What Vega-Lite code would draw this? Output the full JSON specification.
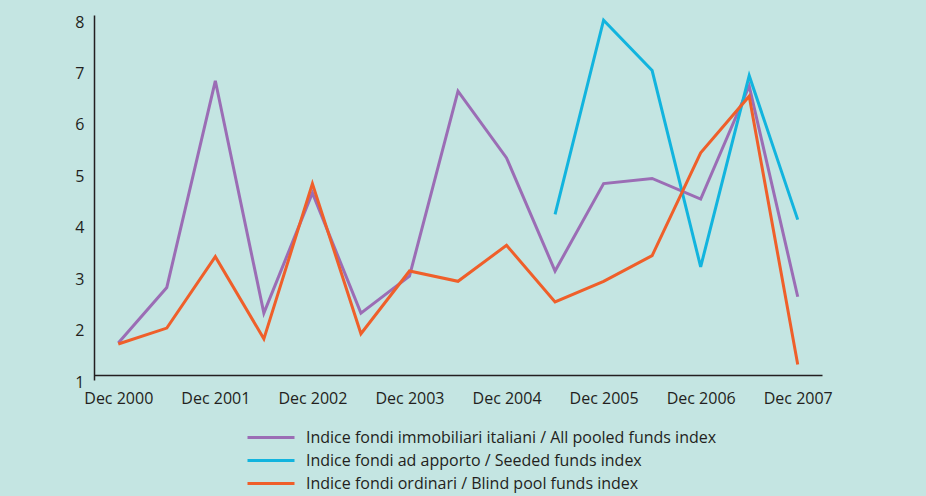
{
  "$schema": "https://vega.github.io/schema/vega-lite/v6.json",
  "width": 728,
  "height": 365,
  "autosize": {"type": "none"},
  "padding": {"left": 94, "top": 15, "right": 104, "bottom": 116},
  "background": "#c4e5e2",
  "config": {
    "view": {"stroke": null},
    "font": "Open Sans",
    "axis": {"labelFont": "Open Sans", "labelColor": "#231f20", "labelFontSize": 16, "grid": false, "ticks": false, "domainColor": "#231f20", "domainWidth": 1.5, "title": null},
    "legend": {"labelFont": "Open Sans", "labelFontSize": 16, "labelColor": "#231f20"}
  },
  "data": {"values": [
    {"t": "Dec 2000", "s": "Indice fondi immobiliari italiani / All pooled funds index", "v": 1.72},
    {"t": "Jun 2001", "s": "Indice fondi immobiliari italiani / All pooled funds index", "v": 2.8},
    {"t": "Dec 2001", "s": "Indice fondi immobiliari italiani / All pooled funds index", "v": 6.82},
    {"t": "Jun 2002", "s": "Indice fondi immobiliari italiani / All pooled funds index", "v": 2.3},
    {"t": "Dec 2002", "s": "Indice fondi immobiliari italiani / All pooled funds index", "v": 4.64},
    {"t": "Jun 2003", "s": "Indice fondi immobiliari italiani / All pooled funds index", "v": 2.3},
    {"t": "Dec 2003", "s": "Indice fondi immobiliari italiani / All pooled funds index", "v": 3.02},
    {"t": "Jun 2004", "s": "Indice fondi immobiliari italiani / All pooled funds index", "v": 6.62},
    {"t": "Dec 2004", "s": "Indice fondi immobiliari italiani / All pooled funds index", "v": 5.32},
    {"t": "Jun 2005", "s": "Indice fondi immobiliari italiani / All pooled funds index", "v": 3.12},
    {"t": "Dec 2005", "s": "Indice fondi immobiliari italiani / All pooled funds index", "v": 4.82},
    {"t": "Jun 2006", "s": "Indice fondi immobiliari italiani / All pooled funds index", "v": 4.92},
    {"t": "Dec 2006", "s": "Indice fondi immobiliari italiani / All pooled funds index", "v": 4.52},
    {"t": "Jun 2007", "s": "Indice fondi immobiliari italiani / All pooled funds index", "v": 6.72},
    {"t": "Dec 2007", "s": "Indice fondi immobiliari italiani / All pooled funds index", "v": 2.62},
    {"t": "Jun 2005", "s": "Indice fondi ad apporto / Seeded funds index", "v": 4.22},
    {"t": "Dec 2005", "s": "Indice fondi ad apporto / Seeded funds index", "v": 8.0},
    {"t": "Jun 2006", "s": "Indice fondi ad apporto / Seeded funds index", "v": 7.02},
    {"t": "Dec 2006", "s": "Indice fondi ad apporto / Seeded funds index", "v": 3.2},
    {"t": "Jun 2007", "s": "Indice fondi ad apporto / Seeded funds index", "v": 6.92},
    {"t": "Dec 2007", "s": "Indice fondi ad apporto / Seeded funds index", "v": 4.12},
    {"t": "Dec 2000", "s": "Indice fondi ordinari / Blind pool funds index", "v": 1.7},
    {"t": "Jun 2001", "s": "Indice fondi ordinari / Blind pool funds index", "v": 2.01},
    {"t": "Dec 2001", "s": "Indice fondi ordinari / Blind pool funds index", "v": 3.4},
    {"t": "Jun 2002", "s": "Indice fondi ordinari / Blind pool funds index", "v": 1.8},
    {"t": "Dec 2002", "s": "Indice fondi ordinari / Blind pool funds index", "v": 4.82},
    {"t": "Jun 2003", "s": "Indice fondi ordinari / Blind pool funds index", "v": 1.9},
    {"t": "Dec 2003", "s": "Indice fondi ordinari / Blind pool funds index", "v": 3.12},
    {"t": "Jun 2004", "s": "Indice fondi ordinari / Blind pool funds index", "v": 2.92},
    {"t": "Dec 2004", "s": "Indice fondi ordinari / Blind pool funds index", "v": 3.62},
    {"t": "Jun 2005", "s": "Indice fondi ordinari / Blind pool funds index", "v": 2.52},
    {"t": "Dec 2005", "s": "Indice fondi ordinari / Blind pool funds index", "v": 2.92},
    {"t": "Jun 2006", "s": "Indice fondi ordinari / Blind pool funds index", "v": 3.42},
    {"t": "Dec 2006", "s": "Indice fondi ordinari / Blind pool funds index", "v": 5.42},
    {"t": "Jun 2007", "s": "Indice fondi ordinari / Blind pool funds index", "v": 6.52},
    {"t": "Dec 2007", "s": "Indice fondi ordinari / Blind pool funds index", "v": 1.3}
  ]},
  "mark": {"type": "line", "strokeWidth": 3, "strokeJoin": "miter"},
  "encoding": {
    "x": {
      "field": "t", "type": "ordinal",
      "sort": ["Dec 2000","Jun 2001","Dec 2001","Jun 2002","Dec 2002","Jun 2003","Dec 2003","Jun 2004","Dec 2004","Jun 2005","Dec 2005","Jun 2006","Dec 2006","Jun 2007","Dec 2007"],
      "scale": {"type": "point", "padding": 0.5},
      "axis": {"labelAngle": 0, "labelPadding": 15, "offset": -5, "labelExpr": "substring(datum.value, 0, 3) == 'Dec' ? datum.value : ''", "labelOverlap": false}
    },
    "y": {
      "field": "v", "type": "quantitative",
      "scale": {"domain": [1, 8.1], "nice": false, "zero": false},
      "axis": {"values": [1,2,3,4,5,6,7,8], "labelPadding": 10, "labelOffset": 2}
    },
    "color": {
      "field": "s", "type": "nominal",
      "scale": {
        "domain": ["Indice fondi immobiliari italiani / All pooled funds index", "Indice fondi ad apporto / Seeded funds index", "Indice fondi ordinari / Blind pool funds index"],
        "range": ["#9b6db5", "#12b4de", "#ef5f2a"]
      },
      "legend": {
        "title": null, "orient": "none", "legendX": 152, "legendY": 411,
        "symbolType": "stroke", "symbolSize": 2209, "symbolStrokeWidth": 3,
        "rowPadding": 0, "clipHeight": 23, "labelOffset": 10, "labelLimit": 600
      }
    }
  }
}
